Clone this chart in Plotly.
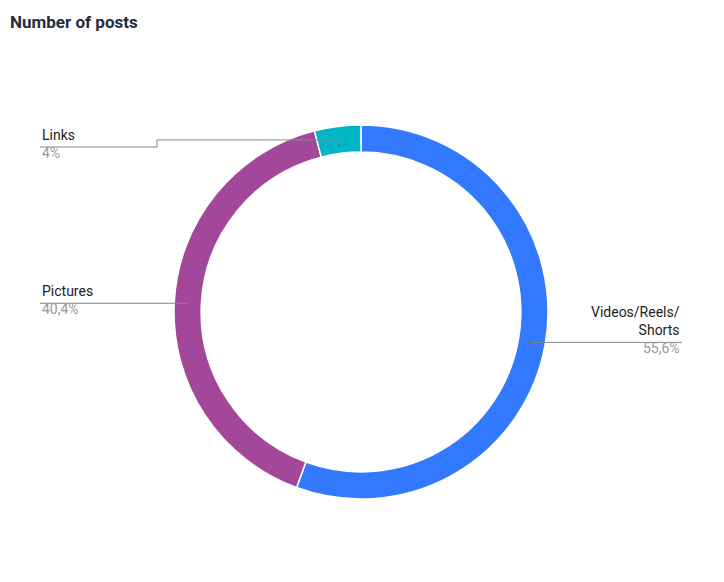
import numpy as np
import plotly.graph_objects as go

labels = ["Videos/Reels/Shorts", "Pictures", "Links"]
values = [55.6, 40.4, 4.0]
pct_text = ["55,6%", "40,4%", "4%"]
colors = ["#3279FF", "#A3479B", "#00B5C4"]

W, H = 724, 582
OFF = 8  # page body margin shifts everything
cx, cy, R, hole = 361, 312, 187, 0.855

def px(x, y):
    return (x - OFF) / W, 1 - (y - OFF) / H

fig = go.Figure(go.Pie(
    labels=labels, values=values, hole=hole, sort=False, direction="clockwise",
    rotation=0, marker=dict(colors=colors, line=dict(color="white", width=1.5)),
    textinfo="none", hoverinfo="label+percent", showlegend=False,
    domain=dict(x=[(cx - OFF - R) / W, (cx - OFF + R) / W],
                y=[(H - cy + OFF - R) / H, (H - cy + OFF + R) / H]),
))

# anchor point in the middle of each ring segment
rm = R * (1 + hole) / 2
cum = np.cumsum([0] + values[:-1])
mids = [(c + v / 2) / sum(values) * 2 * np.pi for c, v in zip(cum, values)]
pts = [(cx + rm * np.sin(a), cy - rm * np.cos(a)) for a in mids]

shapes, ann = [], []
line = dict(color="#888", width=1)

def seg(p, q):
    x0, y0 = px(*p); x1, y1 = px(*q)
    shapes.append(dict(type="line", xref="paper", yref="paper", x0=x0, y0=y0, x1=x1, y1=y1, line=line))

def dot(p):
    x, y = px(*p)
    ann.append(dict(x=x, y=y, xref="paper", yref="paper", text="●", showarrow=False,
                    font=dict(size=5, color="#666")))

def label(x, y, name, pct, align):
    xa, ya = px(x, y)
    anchor = "left" if align == "left" else "right"
    ann.append(dict(x=xa, y=ya, xref="paper", yref="paper", text=name, showarrow=False,
                    xanchor=anchor, yanchor="bottom", align=align,
                    font=dict(size=14, color="#222")))
    ann.append(dict(x=xa, y=ya + 0.004, xref="paper", yref="paper", text=pct, showarrow=False,
                    xanchor=anchor, yanchor="top", font=dict(size=14, color="#999")))

# Videos
p = pts[0]
seg(p, (682, p[1])); dot(p)
label(682, p[1] - 2, "Videos/Reels/<br>Shorts", pct_text[0], "right")
# Pictures
p = pts[1]
seg(p, (40, p[1])); dot(p)
label(40, p[1] - 2, labels[1], pct_text[1], "left")
# Links
p = pts[2]
seg(p, (157, p[1])); seg((157, p[1]), (157, 147)); seg((157, 147), (40, 147)); dot(p)
label(40, 145, labels[2], pct_text[2], "left")

tx, ty = px(8, 22)
ann.append(dict(x=tx, y=ty, xref="paper", yref="paper", text="<b>Number of posts</b>",
                showarrow=False, xanchor="left", yanchor="middle",
                font=dict(size=17, color="#1F2D3D")))

fig.update_layout(width=W, height=H, margin=dict(l=0, r=0, t=0, b=0),
                  paper_bgcolor="white", plot_bgcolor="white",
                  font=dict(family="Roboto, Arial"), shapes=shapes, annotations=ann)
fig.write_html("out.html")
